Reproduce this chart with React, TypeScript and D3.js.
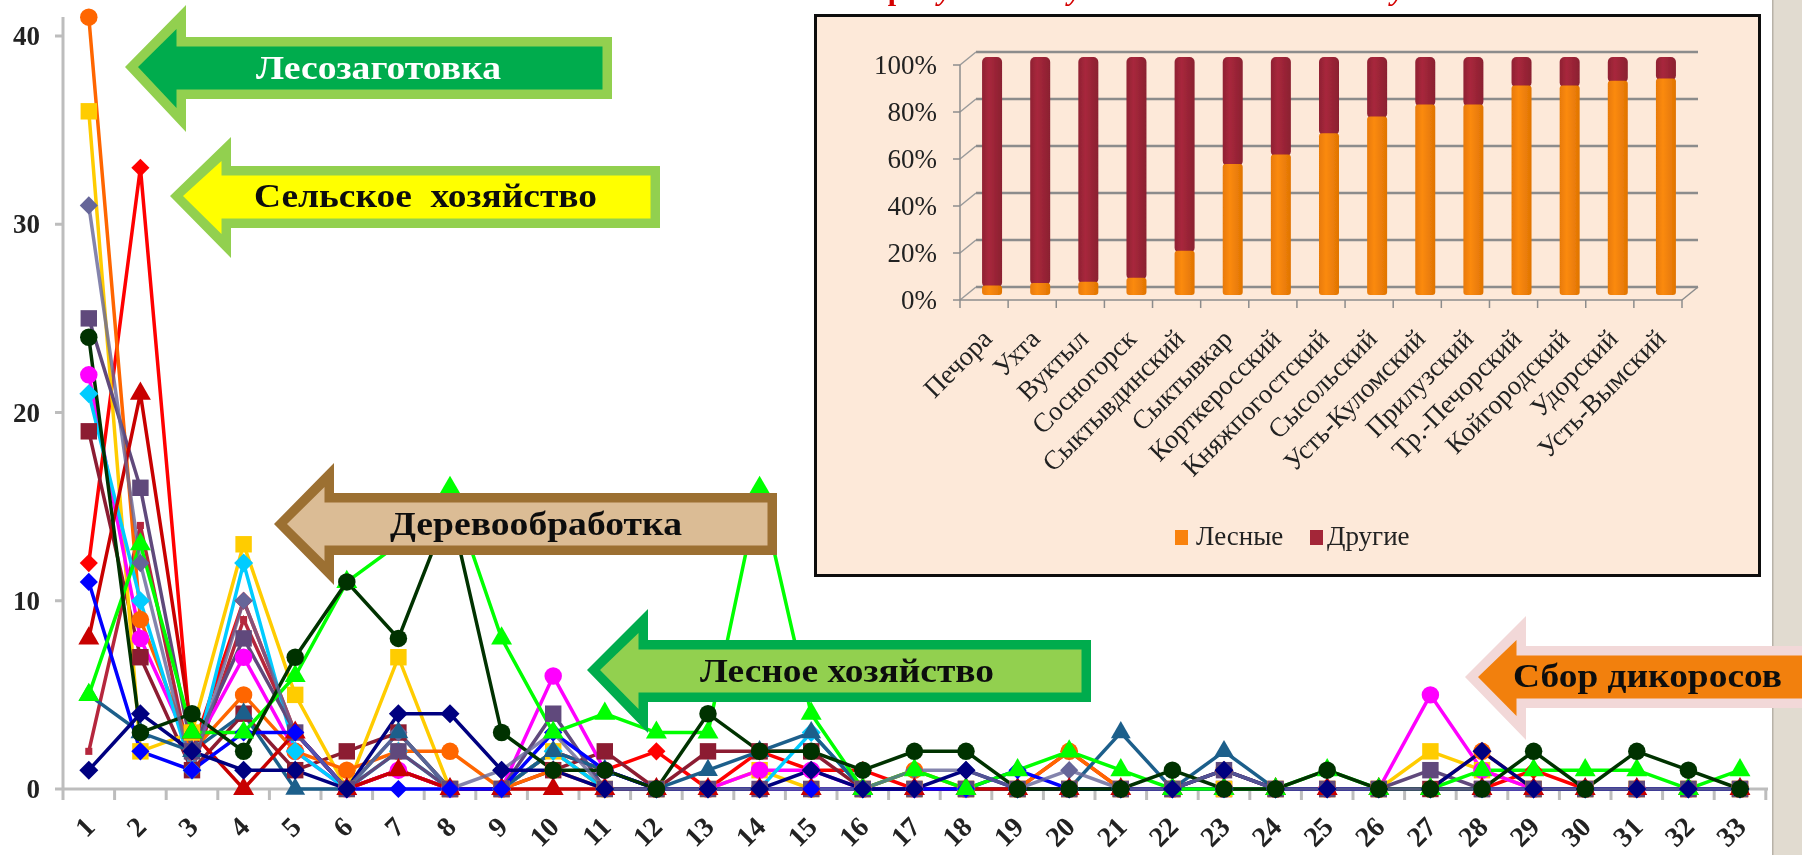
import React from "react";
import * as d3 from "d3";

const W = 1802, H = 855;

// ----- main line chart data (33 categories) -----
const categories = d3.range(1, 34).map(String);
const yTicks = [0, 10, 20, 30, 40];
const orangeVals = [41,9,2,5,2,1,2,2,0,1,0,0,0,0,0,0,1,0,0,2,0,0,1,0,0,0,0,2,0,0,0,0,0];
const goldVals = [36,2,3,13,5,0,7,0,0,2,0,0,0,1,0,0,0,0,0,0,0,0,0,0,0,0,2,1,0,0,0,0,0];
const slateVals = [31,12,1,10,3,0,3,0,1,3,0,0,0,0,0,0,1,1,0,1,0,0,1,0,0,0,0,0,0,0,0,0,0];
const purpleVals = [25,16,2,8,3,0,2,0,0,4,0,0,0,0,0,0,0,0,0,0,0,0,1,0,0,0,1,0,0,0,0,0,0];
const forestVals = [24,3,4,2,7,11,8,15,3,1,1,0,4,2,2,1,2,2,0,0,0,1,0,0,1,0,0,0,2,0,2,1,0];
const magentaVals = [22,8,2,7,2,0,1,0,0,6,1,0,0,1,1,0,0,0,0,0,0,0,0,0,0,0,5,1,0,0,0,0,0];
const cyanVals = [21,10,1,12,2,0,2,0,0,2,0,0,0,0,3,0,0,0,0,0,0,0,0,0,0,0,0,0,0,0,0,0,0];
const maroonVals = [19,7,1,4,1,2,3,0,0,1,2,0,2,2,2,0,0,0,0,0,0,0,0,0,0,0,0,0,0,0,0,0,0];
const redVals = [12,33,2,10,3,0,1,0,0,2,1,2,0,2,1,1,0,0,0,2,0,0,0,0,0,0,0,0,1,0,0,0,0];
const blueVals = [11,2,1,3,3,0,0,0,0,3,1,0,0,0,0,0,0,0,1,0,0,0,0,0,0,0,0,0,0,0,0,0,0];
const crimsonVals = [8,21,3,0,3,0,1,0,0,0,0,0,0,0,0,0,0,0,0,0,0,0,0,0,0,0,0,0,0,0,0,0,0];
const brickVals = [2,14,1,9,3,0,1,0,0,2,0,0,0,0,0,0,0,0,0,0,0,0,0,0,0,0,0,0,0,0,0,0,0];
const greenVals = [5,13,3,3,6,11,13,16,8,3,4,3,3,16,4,0,1,0,1,2,1,0,0,0,1,0,0,1,1,1,1,0,1];
const tealVals = [5,3,2,4,0,0,3,0,0,2,1,0,1,2,3,0,0,0,0,0,3,0,2,0,0,0,0,0,0,0,0,0,0];
const navyVals = [1,4,2,1,1,0,4,4,1,1,0,0,0,0,1,0,0,1,0,0,0,0,1,0,0,0,0,2,0,0,0,0,0];

const circle = d3.symbolCircle, square = d3.symbolSquare, diamond = d3.symbolDiamond2, triangle = d3.symbolTriangle;
// marker drawing order: bottom to top
const markerSeries = [
  { values: brickVals, color: "#b5283c", symbol: square, size: 50 },
  { values: redVals, color: "#ff0000", symbol: diamond, size: 210 },
  { values: maroonVals, color: "#8c1c32", symbol: square, size: 270 },
  { values: goldVals, color: "#ffcc00", symbol: square, size: 270 },
  { values: magentaVals, color: "#ff00ff", symbol: circle, size: 240 },
  { values: orangeVals, color: "#ff6600", symbol: circle, size: 240 },
  { values: cyanVals, color: "#00ccff", symbol: diamond, size: 230 },
  { values: slateVals, color: "#666699", symbol: diamond, size: 210 },
  { values: purpleVals, color: "#604a7b", symbol: square, size: 270 },
  { values: tealVals, color: "#1f5f8b", symbol: triangle, size: 170 },
  { values: crimsonVals, color: "#c80000", symbol: triangle, size: 190 },
  { values: blueVals, color: "#0000ff", symbol: diamond, size: 210 },
  { values: greenVals, color: "#00ff00", symbol: triangle, size: 190 },
  { values: navyVals, color: "#000080", symbol: diamond, size: 230 },
  { values: forestVals, color: "#003300", symbol: circle, size: 240 },
];
// line drawing order: the slate line stays on top along the baseline
const lineOrder = [0, 1, 2, 3, 4, 5, 6, 8, 9, 10, 11, 12, 13, 14, 7];

// ----- inset stacked bars -----
const districts = ["Печора","Ухта","Вуктыл","Сосногорск","Сыктывдинский","Сыктывкар","Корткеросский","Княжпогостский","Сысольский","Усть-Куломский","Прилузский","Тр.-Печорский","Койгородский","Удорский","Усть-Вымский"];
const forestShare = [4,5,5.6,7.3,18.6,55,59,68,75,80,80,88,88,90,91];
const otherShare = forestShare.map((v) => 100 - v);
const pctTicks = [0, 20, 40, 60, 80, 100];
const legendNames = ["Лесные", "Другие"];

// ----- arrows -----
const arrowLabels = ["Лесозаготовка", "Сельское  хозяйство", "Деревообработка", "Лесное хозяйство", "Сбор дикоросов"];
const titleFragments = ["р", "у", "у", "у"];

// layout
const x = d3.scalePoint<string>().domain(categories).range([88.8, 1740]);
const y = d3.scaleLinear().domain([0, 40]).range([789, 36]);
const line = d3.line<number>().x((_, i) => x(categories[i])!).y((v) => y(v));
const xStep = x.step();

const insetX = d3.scaleBand<string>().domain(districts).range([960, 1682]);
const insetY = d3.scaleLinear().domain([0, 100]).range([300, 65]);
const barY = d3.scaleLinear().domain([0, 100]).range([295, 57]);
const stackRows = districts.map((_, i) => ({ a: forestShare[i], b: otherShare[i] }));
const stacked = d3.stack<any>().keys(["a", "b"])(stackRows);
const depth = { dx: 16, dy: 13 };

function arrowPath(tip: number, head: number, right: number, top: number, bottom: number, st: number, sb: number, cy: number) {
  const p = d3.path();
  p.moveTo(tip, cy); p.lineTo(head, top); p.lineTo(head, st); p.lineTo(right, st);
  p.lineTo(right, sb); p.lineTo(head, sb); p.lineTo(head, bottom); p.closePath();
  return p.toString();
}
function Arrow({ a }: { a: any }) {
  const b = 9.5;
  return (
    <g>
      <path d={arrowPath(a.tip, a.head, a.right, a.top, a.bottom, a.st, a.sb, a.cy)} fill={a.edge} />
      <path d={arrowPath(a.tip + 13, a.head - b, a.right - b, a.top + 24, a.bottom - 24, a.st + b, a.sb - b, a.cy)} fill={a.fill} />
      <text x={a.tx} y={a.ty} textLength={a.tw} lengthAdjust="spacingAndGlyphs" fontFamily="'Liberation Serif'" fontWeight="bold" fontSize={33} fill={a.ink} xmlSpace="preserve">{a.label}</text>
    </g>
  );
}
const arrows = [
  { tip: 125, head: 186, right: 612, top: 5, bottom: 132, st: 37, sb: 99, cy: 67, fill: "#00ac4e", edge: "#92d050", label: arrowLabels[0], tx: 256, ty: 79, tw: 245, ink: "#ffffff" },
  { tip: 170, head: 231, right: 660, top: 137, bottom: 258, st: 166, sb: 228, cy: 196, fill: "#ffff00", edge: "#92d050", label: arrowLabels[1], tx: 254, ty: 207, tw: 343, ink: "#111111" },
  { tip: 274, head: 334, right: 777, top: 463, bottom: 585, st: 493, sb: 555, cy: 524, fill: "#dbbc95", edge: "#9c6f33", label: arrowLabels[2], tx: 390, ty: 535, tw: 292, ink: "#111111" },
  { tip: 587, head: 648, right: 1091, top: 609, bottom: 733, st: 640, sb: 702, cy: 670, fill: "#92d050", edge: "#00ac4e", label: arrowLabels[3], tx: 700, ty: 682, tw: 294, ink: "#111111" },
  { tip: 1465, head: 1526, right: 1815, top: 616, bottom: 740, st: 646, sb: 708, cy: 677, fill: "#f2800c", edge: "#f2d8d8", label: arrowLabels[4], tx: 1513, ty: 687, tw: 269, ink: "#111111" },
];
const titleX = [896, 945, 1075, 1398];

export default function App() {
  return (
    <svg width={W} height={H} viewBox={`0 0 ${W} ${H}`} style={{ position: "absolute", left: 0, top: 0, display: "block", background: "#fff" }}>
      <defs>
        <filter id="soft" filterUnits="userSpaceOnUse" x={0} y={0} width={W} height={H}>
          <feGaussianBlur stdDeviation={0.7} />
        </filter>
        <linearGradient id="barOrange" x1="0" x2="1" y1="0" y2="0">
          <stop offset="0" stopColor="#e87a06" /><stop offset="0.35" stopColor="#fb8a0c" /><stop offset="1" stopColor="#e07404" />
        </linearGradient>
        <linearGradient id="barRed" x1="0" x2="1" y1="0" y2="0">
          <stop offset="0" stopColor="#8f2133" /><stop offset="0.35" stopColor="#a8283c" /><stop offset="1" stopColor="#8a1f30" />
        </linearGradient>
      </defs>
      <g filter="url(#soft)">
        {/* sidebar */}
        <rect x={1772} y={0} width={30} height={H} fill="#e1dbd0" />
        <rect x={1772} y={0} width={1.5} height={H} fill="#b8b2a8" />

        {/* axes */}
        <line x1={63} x2={63} y1={17} y2={789} stroke="#bdbdbd" strokeWidth={3} />
        <line x1={63} x2={1768} y1={789} y2={789} stroke="#bdbdbd" strokeWidth={3} />
        {yTicks.map((t) => (
          <g key={t}>
            <line x1={55} x2={63} y1={y(t)} y2={y(t)} stroke="#bdbdbd" strokeWidth={3} />
            <text x={40} y={y(t) + 9} textAnchor="end" fontFamily="'Liberation Serif'" fontWeight="bold" fontSize={27} fill="#222">{t}</text>
          </g>
        ))}
        {d3.range(0, 34).map((i) => {
          const tx = x(categories[0])! - xStep / 2 + i * xStep;
          return <line key={i} x1={tx} x2={tx} y1={789} y2={800} stroke="#bdbdbd" strokeWidth={3} />;
        })}
        {categories.map((c) => (
          <text key={c} transform={`translate(${x(c)! + 3},824) rotate(-45)`} textAnchor="end" dominantBaseline="middle" fontFamily="'Liberation Serif'" fontWeight="bold" fontSize={28} fill="#222">{c}</text>
        ))}

        {/* lines, then markers */}
        {lineOrder.map((k) => (
          <path key={k} d={line(markerSeries[k].values)!} fill="none" stroke={markerSeries[k].color} strokeWidth={3.5} strokeOpacity={k === 7 ? 0.8 : 1} />
        ))}
        {markerSeries.map((s, k) => (
          <g key={k}>
            {s.values.map((v, i) => (
              <path key={i} d={d3.symbol(s.symbol, s.size)()!} fill={s.color} transform={`translate(${x(categories[i])},${y(v)})`} />
            ))}
          </g>
        ))}

        {/* arrows */}
        {arrows.map((a) => <Arrow key={a.label} a={a} />)}

        {/* clipped title remnants */}
        {titleFragments.map((t, i) => (
          <text key={i} x={titleX[i]} y={0} textAnchor="middle" fontFamily="'Liberation Serif'" fontWeight="bold" fontStyle={i === 0 ? "normal" : "italic"} fontSize={30} fill="#d40000">{t}</text>
        ))}

        {/* inset */}
        <rect x={815.5} y={15.5} width={944} height={560} fill="#fde9d9" stroke="#111" strokeWidth={3} />
        {pctTicks.map((t) => (
          <g key={t}>
            <line x1={insetX.range()[0] + depth.dx} x2={insetX.range()[1] + depth.dx} y1={insetY(t) - depth.dy} y2={insetY(t) - depth.dy} stroke="#8c8c8c" strokeWidth={2.5} />
            <line x1={insetX.range()[0]} x2={insetX.range()[0] + depth.dx} y1={insetY(t)} y2={insetY(t) - depth.dy} stroke="#9a9a9a" strokeWidth={1.5} />
            <line x1={953} x2={960} y1={insetY(t)} y2={insetY(t)} stroke="#8c8c8c" strokeWidth={1.5} />
            <text x={937} y={insetY(t) + 9} textAnchor="end" fontFamily="'Liberation Serif'" fontSize={27} fill="#222">{t}%</text>
          </g>
        ))}
        <line x1={960} x2={960} y1={insetY(100)} y2={insetY(0)} stroke="#8c8c8c" strokeWidth={1.5} />
        <line x1={960} x2={1682} y1={insetY(0)} y2={insetY(0)} stroke="#8c8c8c" strokeWidth={1.5} />
        <line x1={1682} x2={1698} y1={insetY(0)} y2={insetY(0) - depth.dy} stroke="#8c8c8c" strokeWidth={1.5} />
        {d3.range(0, districts.length + 1).map((i) => {
          const tx = 960 + i * insetX.step();
          return <line key={i} x1={tx} x2={tx} y1={300} y2={308} stroke="#8c8c8c" strokeWidth={1.5} />;
        })}
        {stacked[1].map((d, i) => {
          const cx = insetX(districts[i])! + insetX.bandwidth() / 2 + 8;
          return <rect key={i} x={cx - 10} y={barY(d[1])} width={20} height={barY(d[0]) - barY(d[1]) + 2} rx={5} fill="url(#barRed)" />;
        })}
        {stacked[0].map((d, i) => {
          const cx = insetX(districts[i])! + insetX.bandwidth() / 2 + 8;
          return <rect key={i} x={cx - 10} y={barY(d[1])} width={20} height={barY(d[0]) - barY(d[1])} rx={3} fill="url(#barOrange)" />;
        })}
        {districts.map((n) => (
          <text key={n} transform={`translate(${insetX(n)! + insetX.bandwidth() / 2 + 5},336) rotate(-45)`} textAnchor="end" dominantBaseline="middle" fontFamily="'Liberation Serif'" fontSize={27} fill="#222">{n}</text>
        ))}
        <rect x={1175} y={530} width={13} height={15} fill="#f98207" />
        <text x={1196} y={545} fontFamily="'Liberation Serif'" fontSize={27} fill="#222">{legendNames[0]}</text>
        <rect x={1310} y={530} width={13} height={15} fill="#a32638" />
        <text x={1327} y={545} fontFamily="'Liberation Serif'" fontSize={27} fill="#222">{legendNames[1]}</text>
      </g>
    </svg>
  );
}
